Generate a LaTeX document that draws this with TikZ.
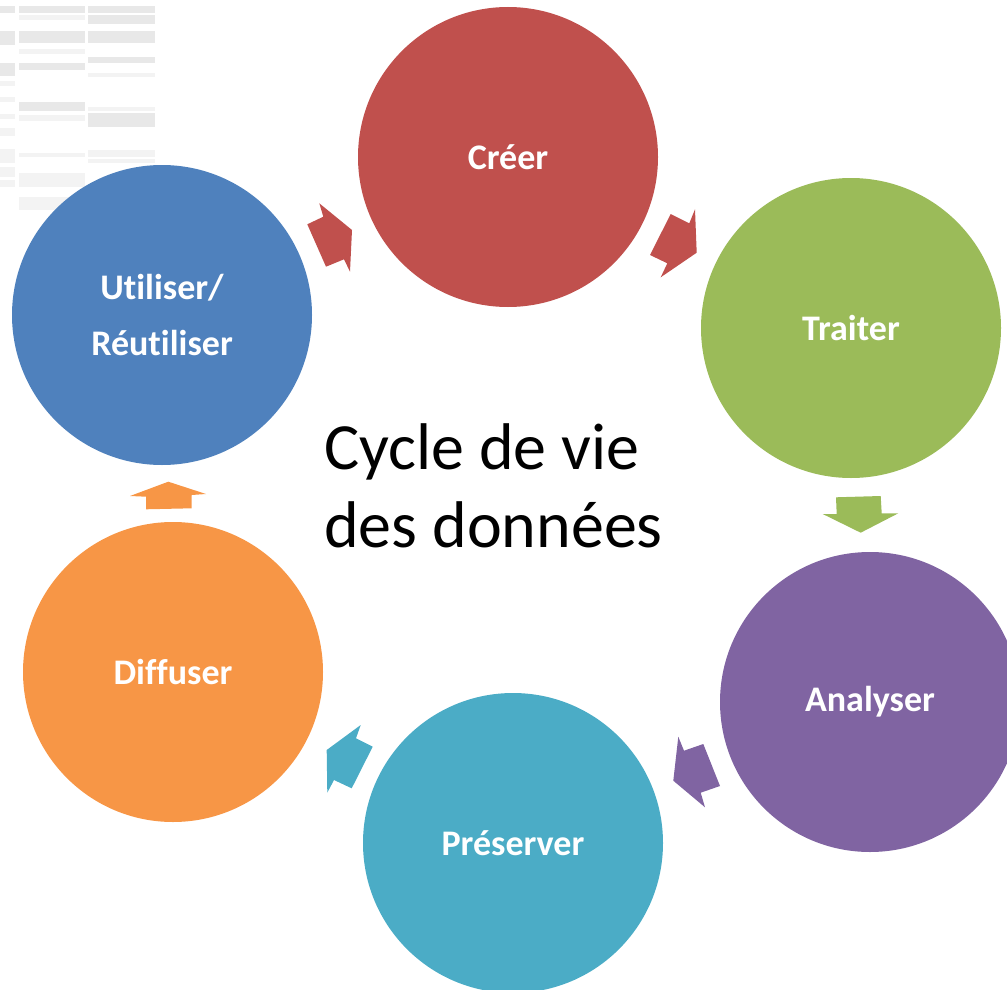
\documentclass[tikz,border=0pt]{standalone}
\usepackage{fontspec}
\setmainfont{Carlito}[Ligatures=NoCommon]
\definecolor{cred}{HTML}{C0504D}
\definecolor{cgreen}{HTML}{9BBB59}
\definecolor{cpurple}{HTML}{8064A2}
\definecolor{cteal}{HTML}{4BACC6}
\definecolor{corange}{HTML}{F79646}
\definecolor{cblue}{HTML}{4F81BD}
\definecolor{fadeA}{HTML}{E8E8E8}
\definecolor{fadeB}{HTML}{F3F3F3}
\tikzset{
  stage/.style={circle, minimum size=300pt, inner sep=0pt, text=white,
    font=\fontsize{36}{56}\selectfont\bfseries, align=center},
  bar/.style={fill=fadeA, draw=none},
  lbar/.style={fill=fadeB, draw=none},
}
\begin{document}
\begin{tikzpicture}[x=1pt,y=-1pt]
\useasboundingbox (0,0) rectangle (1007,990);
% faded background table (top-left)
\foreach \a/\b in {6/13,31/45,63/76}{\fill[bar] (0,\a) rectangle (15,\b);}
\foreach \a/\b in {81/86,97/102,114/119,128/136,149/163,167/177,180/187}{\fill[lbar] (0,\a) rectangle (15,\b);}
\foreach \a/\b in {6/13,31/43,63/70,102/111}{\fill[bar] (19,\a) rectangle (85,\b);}
\foreach \a/\b in {15/20,49/54,115/121,153/157,173/187,197/210}{\fill[lbar] (19,\a) rectangle (85,\b);}
\foreach \a/\b in {6/13,15/24,31/43,57/63,113/127}{\fill[bar] (88,\a) rectangle (155,\b);}
\foreach \a/\b in {73/77,107/111,150/157,159/163}{\fill[lbar] (88,\a) rectangle (155,\b);}
% circles
\node[stage, fill=cred]    (creer) at (508,157) {Créer};
\node[stage, fill=cgreen]  (traiter) at (851,328) {Traiter};
\node[stage, fill=cpurple] (analyser) at (870,702) {Analyser};
\node[stage, fill=cteal]   (preserver) at (513,843) {Préserver};
\node[stage, fill=corange] (diffuser) at (173,672) {Diffuser};
\node[stage, fill=cblue]   (utiliser) at (162,315) {Utiliser/\\Réutiliser};
% arrows
\fill[cred] (319.3,203.3) -- (323.3,216.7) -- (307.3,224.3) -- (326,266.7) -- (344,259.3) -- (350,271.7) -- (352,230) -- cycle;
\fill[cred] (670.7,214) -- (689.3,223.3) -- (695,209.3) -- (696.7,252.7) -- (660.7,277.3) -- (667.3,263.3) -- (650,255) -- cycle;
\fill[cgreen] (836,497.3) -- (880.7,496) -- (881.7,513.3) -- (898.3,513.3) -- (860.7,532.7) -- (822.7,514) -- (836.7,514) -- cycle;
\fill[cpurple] (678.3,736.7) -- (684,750.7) -- (703.3,744) -- (720,786) -- (700.7,792.7) -- (705,807.3) -- (673.3,780.7) -- cycle;
\fill[cteal] (360.7,725) -- (356,738.3) -- (372.7,746.7) -- (351.7,788.3) -- (334,780) -- (327.3,792.7) -- (326.7,750) -- cycle;
\fill[corange] (130,496) -- (168.3,481.7) -- (206,494) -- (191.7,495) -- (191.7,508.3) -- (146,509.3) -- (146,496.7) -- cycle;
% centre title
\node[font=\fontsize{66}{78}\selectfont, align=left, anchor=north west, inner sep=0pt] (title) at (324,423) {Cycle de vie\\des données};
\end{tikzpicture}
\end{document}
